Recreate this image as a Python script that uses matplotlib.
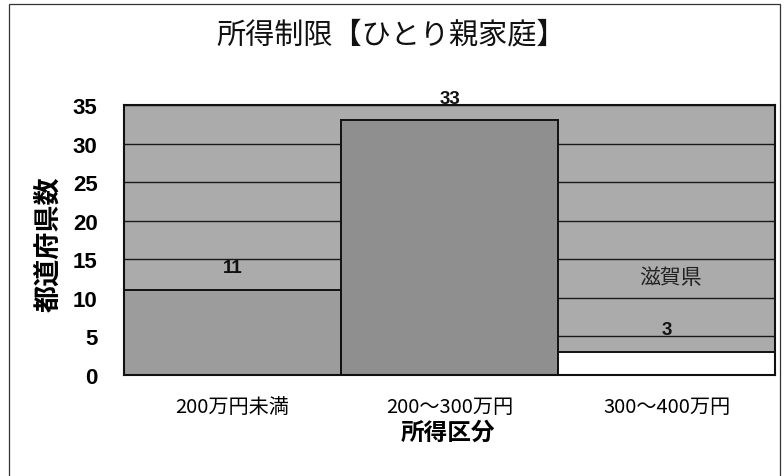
import matplotlib
matplotlib.use("Agg")
import matplotlib.pyplot as plt
from matplotlib.patches import Rectangle

plt.rcParams['font.family'] = ['Noto Sans CJK JP', 'DejaVu Sans']

categories = ["200万円未満", "200～300万円", "300～400万円"]
counts = [11, 33, 3]
bar_colors = ["#9c9c9c", "#8f8f8f", "#ffffff"]
yticks = [0, 5, 10, 15, 20, 25, 30, 35]
note_text = "滋賀県"
note_value = 12.7

fig = plt.figure(figsize=(7.84, 4.77), dpi=100)

# thin outer chart frame
fig.patches.append(Rectangle((9 / 784, -0.05), 771 / 784, 1.05 - 5 / 477,
                             transform=fig.transFigure, fill=False,
                             edgecolor="#333333", linewidth=0.9))

ax = fig.add_axes([124 / 784, 1 - 376 / 477, 651 / 784, 270 / 477])
ax.set_facecolor("#ababab")

x = list(range(len(categories)))
ax.set_axisbelow(True)
ax.yaxis.grid(True, color="#1a1a1a", linewidth=1.0)
bars = ax.bar(x, counts, width=1.0, color=bar_colors, edgecolor="#111111",
              linewidth=1.4, zorder=3)

ax.set_xlim(-0.5, len(categories) - 0.5)
ax.set_ylim(0, 35)
ax.set_yticks(yticks)
ax.set_xticks(x)
ax.set_xticklabels(categories, fontsize=14.5)
ax.tick_params(axis="both", length=0)
ax.tick_params(axis="y", pad=19)
ax.tick_params(axis="x", pad=15)
for lab in ax.get_yticklabels():
    lab.set_fontfamily(["Liberation Sans", "DejaVu Sans"])
    lab.set_fontweight("bold")
    lab.set_fontsize(16)

for side in ax.spines.values():
    side.set_color("#111111")
    side.set_linewidth(1.5)
    side.set_zorder(4)

for xi, v in zip(x, counts):
    ax.annotate(str(v), (xi, v), xytext=(0, 16), textcoords="offset points",
                ha="center", va="center", fontsize=13.5, fontweight="bold",
                family=["Liberation Sans", "DejaVu Sans"], color="#111111",
                zorder=5, annotation_clip=False)

ax.text(2.02, note_value, note_text, ha="center", va="center", fontsize=15,
        color="#222222", zorder=5)

ax.set_ylabel("都道府県数", fontsize=19.5, fontweight="bold")
ax.yaxis.set_label_coords(-0.095, 0.49)
ax.set_xlabel("所得区分", fontsize=17, fontweight="bold")
ax.xaxis.set_label_coords(0.498, -0.165)
fig.text(391 / 784, 1 - 35 / 477, "所得制限【ひとり親家庭】", ha="center",
         va="center", fontsize=21, color="#111111")

fig.savefig("out.png", dpi=100)
